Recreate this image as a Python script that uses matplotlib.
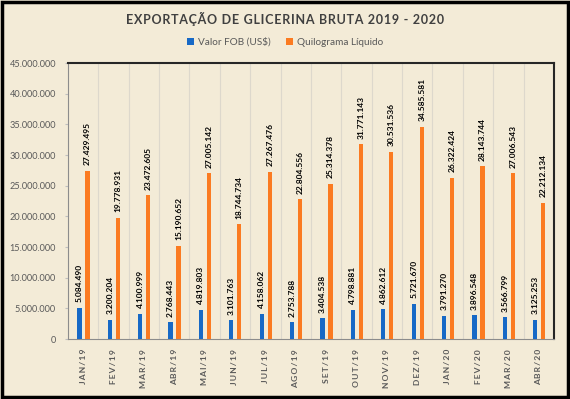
import numpy as np
import matplotlib.pyplot as plt
from matplotlib.patches import Rectangle
from matplotlib.ticker import FuncFormatter

plt.rcParams['font.family'] = ['Lato', 'DejaVu Sans']

# dados
meses = ['JAN/19', 'FEV/19', 'MAR/19', 'ABR/19', 'MAI/19', 'JUN/19', 'JUL/19', 'AGO/19',
         'SET/19', 'OUT/19', 'NOV/19', 'DEZ/19', 'JAN/20', 'FEV/20', 'MAR/20', 'ABR/20']
valor_fob = [5084490, 3200204, 4100999, 2768443, 4819803, 3101763, 4158062, 2753788,
             3404538, 4798881, 4862612, 5721670, 3791270, 3896548, 3566799, 3125253]
quilograma = [27429495, 19778931, 23472605, 15190652, 27005142, 18744734, 27267476, 22804556,
              25314378, 31771143, 30531536, 34585581, 26322424, 28143744, 27006543, 22212134]
titulo = 'EXPORTAÇÃO DE GLICERINA BRUTA 2019 - 2020'

fundo = '#F3EBD7'
azul = '#1769C6'
laranja = '#FB7B21'
cinza = '#595959'


def fmt_br(v, pos=None):
    return '{:,.0f}'.format(v).replace(',', '.')


def espacar(s, sep='\u2009'):
    # letras espaçadas como no Excel
    return sep.join(s)


fig = plt.figure(figsize=(5.7, 3.99), dpi=100, facecolor=fundo)
ax = fig.add_axes([0.119, 0.150, 0.853, 0.692], facecolor=fundo)

x = np.arange(len(meses))
w = 0.14
b1 = ax.bar(x - 0.12, valor_fob, w, color=azul, label='Valor FOB (US$)', zorder=3)
b2 = ax.bar(x + 0.145, quilograma, w, color=laranja, label='Quilograma Líquido', zorder=3)

for rect, v in zip(list(b1) + list(b2), valor_fob + quilograma):
    ax.annotate(fmt_br(v), (rect.get_x() + rect.get_width() / 2, v),
                xytext=(0, 4), textcoords='offset points', rotation=90,
                ha='center', va='bottom', fontsize=6, fontweight='bold', color='black')

ax.set_xlim(-0.5, len(meses) - 0.5)
ax.set_ylim(0, 45000000)
ax.set_yticks(np.arange(0, 45000001, 5000000))
ax.yaxis.set_major_formatter(FuncFormatter(fmt_br))
ax.tick_params(axis='y', labelsize=6.6, colors=cinza, length=2.5, color='#BFBFBF', pad=6)
ax.set_xticks(x)
ax.set_xticklabels([espacar(m) for m in meses], rotation=90, fontsize=6.1,
                   fontweight='bold', color=cinza)
ax.tick_params(axis='x', length=0, pad=7)

# linhas verticais entre categorias
for xv in np.arange(0.5, len(meses) - 0.5):
    ax.axvline(xv, color='#DDD8CC', lw=0.8, zorder=1)

ax.spines['top'].set_color('#262626')
ax.spines['right'].set_color('#262626')
ax.spines['top'].set_linewidth(1.5)
ax.spines['right'].set_linewidth(1.5)
ax.spines['left'].set_color('#8C8C8C')
ax.spines['bottom'].set_color('#8C8C8C')

fig.text(0.5, 0.952, espacar(titulo, '\u200a'), ha='center', va='center',
         fontsize=9, fontweight='bold', color='#404040')
fig.legend(handles=[b1, b2], loc='center', bbox_to_anchor=(0.5, 0.895), ncol=2,
           frameon=False, fontsize=7.2, handlelength=0.7, handleheight=0.7,
           columnspacing=1.5, handletextpad=0.4, labelcolor=cinza)

fig.patches.append(Rectangle((0.003, 0.005), 0.994, 0.99, transform=fig.transFigure,
                             fill=False, edgecolor='black', lw=2.5))

fig.savefig('out.png', dpi=100, facecolor=fundo)
